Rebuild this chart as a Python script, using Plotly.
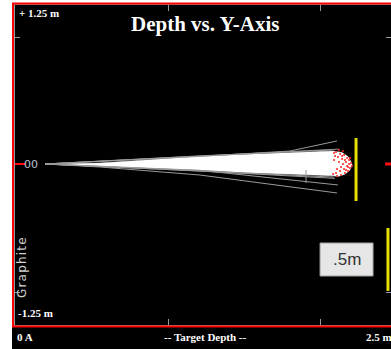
import plotly.graph_objects as go

# ---- data (metres) ----
core_x = [0.191, 0.553, 0.882, 1.211, 1.539, 1.868, 2.086, 2.145, 2.184, 2.204, 2.211,
          2.197, 2.164, 2.118, 2.086, 1.868, 1.539, 1.211, 0.882, 0.553, 0.191]
core_y = [0.008, 0.016, 0.042, 0.068, 0.084, 0.100, 0.110, 0.098, 0.066, 0.026, 0.0,
          -0.040, -0.072, -0.090, -0.085, -0.074, -0.060, -0.040, -0.024, -0.007, 0.008]

tracks = {
    "t1": ([0.191, 1.211, 1.803, 2.112], [0.008, 0.068, 0.110, 0.189]),
    "t2": ([0.191, 1.539, 2.125], [0.008, 0.090, 0.125]),
    "t3": ([0.191, 1.211, 2.118], [0.008, -0.042, -0.157]),
    "t4": ([0.191, 0.553, 1.211, 2.112], [0.008, -0.016, -0.079, -0.220]),
    "t5": ([1.908, 1.908], [-0.039, -0.142]),
    "t6": ([0.191, 1.211, 2.099], [0.008, -0.048, -0.105]),
    "t7": ([0.191, 1.211, 2.080], [0.008, 0.072, 0.118]),
    "t8": ([0.191, 1.539, 2.090], [0.008, -0.068, -0.095]),
}

red_x = [2.105, 2.132, 2.158, 2.178, 2.191, 2.204, 2.211, 2.197, 2.184, 2.164, 2.138, 2.112,
         2.092, 2.118, 2.145, 2.171, 2.151, 2.178, 2.158, 2.132, 2.105, 2.125, 2.138, 2.112,
         2.164, 2.191, 2.099, 2.125, 2.151, 2.197, 2.086, 2.092, 2.184, 2.171, 2.145]
red_y = [0.102, 0.086, 0.079, 0.055, 0.039, 0.016, -0.008, -0.024, -0.047, -0.063, -0.079,
         -0.086, 0.094, 0.063, 0.047, 0.024, 0.008, -0.008, -0.031, -0.047, -0.063, 0.024,
         -0.016, -0.031, 0.039, 0.008, 0.071, 0.118, 0.110, 0.055, -0.071, 0.039, -0.016,
         -0.039, 0.071]

yellow1_x, yellow1_y = [2.237, 2.237], [0.212, -0.283]
yellow2_x, yellow2_y = [2.447, 2.447], [-0.495, -0.99]
red_mark_x, red_mark_y = [2.428, 2.467], [0.008, 0.008]
zero_mark_x, zero_mark_y = [-0.007, 0.06], [0.008, 0.008]
box_x, box_y = [2.0, 2.349], [-0.613, -0.873]

x_range = [-0.007, 2.467]
y_range = [-1.258, 1.258]
x_ticks = [1, 2]
y_ticks = [-1, 1]

fig = go.Figure()

fig.add_trace(go.Scatter(x=core_x, y=core_y, mode="lines", fill="toself",
                         fillcolor="white", line=dict(color="white", width=0.5),
                         hoverinfo="skip"))
for k, (tx, ty) in tracks.items():
    fig.add_trace(go.Scatter(x=tx, y=ty, mode="lines",
                             line=dict(color="#9a9a9a", width=1), hoverinfo="skip"))
fig.add_trace(go.Scatter(x=red_x, y=red_y, mode="markers",
                         marker=dict(color="#ff2020", size=2), hoverinfo="skip"))
fig.add_trace(go.Scatter(x=yellow1_x, y=yellow1_y, mode="lines",
                         line=dict(color="#e8e000", width=3), hoverinfo="skip"))
fig.add_trace(go.Scatter(x=yellow2_x, y=yellow2_y, mode="lines",
                         line=dict(color="#e8e000", width=3), hoverinfo="skip"))
fig.add_trace(go.Scatter(x=red_mark_x, y=red_mark_y, mode="lines",
                         line=dict(color="#ff1010", width=3), hoverinfo="skip"))
fig.add_trace(go.Scatter(x=zero_mark_x, y=zero_mark_y, mode="lines",
                         line=dict(color="#ff1010", width=2), hoverinfo="skip"))

# .5m box
fig.add_shape(type="rect", xref="x", yref="y", x0=box_x[0], x1=box_x[1],
              y0=box_y[0], y1=box_y[1], fillcolor="#e6e6e6",
              line=dict(color="#9a9a9a", width=1))
fig.add_annotation(x=(box_x[0] + box_x[1]) / 2, y=(box_y[0] + box_y[1]) / 2,
                   xref="x", yref="y", text=".5m", showarrow=False,
                   font=dict(family="Liberation Sans", size=17, color="#333333"))

L, R, T, B = 15, 391, 5, 325
W, H = R - L, B - T
def px(v):
    return (v - L) / W
def py(v):
    return (B - v) / H

# bottom black strip and red frame
fig.add_shape(type="rect", xref="paper", yref="paper", x0=px(12), x1=px(395),
              y0=py(350), y1=py(327), fillcolor="black", line=dict(width=0))
red = dict(color="#ff0000", width=2)
fig.add_shape(type="line", xref="paper", yref="paper", x0=px(13), x1=px(13),
              y0=py(327), y1=py(3), line=red)
fig.add_shape(type="line", xref="paper", yref="paper", x0=px(12), x1=px(395),
              y0=py(3.5), y1=py(3.5), line=red)
fig.add_shape(type="line", xref="paper", yref="paper", x0=px(12), x1=px(395),
              y0=py(326.5), y1=py(326.5), line=red)

serif = "Liberation Serif"
def ann(text, x, y, size, xanchor="left", color="white", family=serif, angle=0):
    fig.add_annotation(x=px(x), y=py(y), xref="paper", yref="paper", text=text,
                       showarrow=False, xanchor=xanchor, yanchor="middle",
                       textangle=angle,
                       font=dict(family=family, size=size, color=color))

ann("<b>Depth vs. Y-Axis</b>", 205, 24, 21, xanchor="center")
ann("<b>+ 1.25 m</b>", 17, 13, 11)
ann("<b>-1.25 m</b>", 16, 313, 11)
ann("G\u200ar\u200aa\u200ap\u200ah\u200ai\u200at\u200ae", 22, 268, 12, xanchor="center",
    color="#d0d0d0", family="DejaVu Sans", angle=-90)
ann("00", 22, 164, 11, color="#b8c0d0", family="DejaVu Sans")
ann("<b>0 A</b>", 15, 337, 11)
ann("<b>-- Target Depth --</b>", 205, 337, 11, xanchor="center")
ann("<b>2.5 m</b>", 364, 337, 11)

fig.update_layout(
    width=391, height=349,
    margin=dict(l=L, r=391 - R, t=T, b=349 - B, pad=0),
    paper_bgcolor="white", plot_bgcolor="black",
    showlegend=False,
    xaxis=dict(range=x_range, showgrid=False, zeroline=False, showticklabels=False,
               ticks="inside", tickvals=x_ticks, ticklen=6, tickcolor="#999999",
               showline=True, linecolor="#999999", linewidth=1, mirror="allticks"),
    yaxis=dict(range=y_range, showgrid=False, zeroline=False, showticklabels=False,
               ticks="inside", tickvals=y_ticks, ticklen=5, tickcolor="#999999",
               showline=True, linecolor="#999999", linewidth=1, mirror="allticks"),
)

fig.write_html("out.html")
